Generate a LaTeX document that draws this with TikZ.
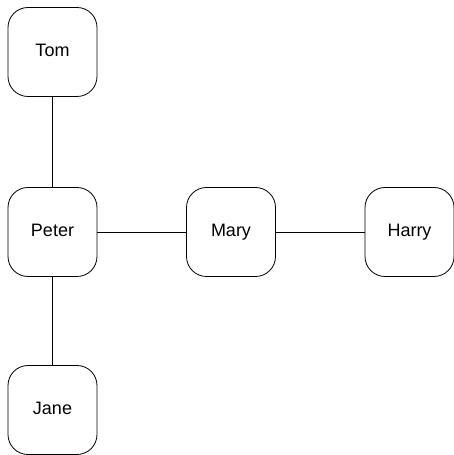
\documentclass[tikz,border=0pt]{standalone}
\usepackage{fontspec}
\setmainfont{Liberation Sans}
\usepackage{tikz}
\usetikzlibrary{positioning}

\begin{document}
\begin{tikzpicture}[
  x=1pt, y=1pt,
  person/.style={draw, rounded corners=20pt, minimum width=89pt, minimum height=89pt, inner sep=0pt, text height=1.2em, text depth=0.2em, line width=0.8pt, font=\fontsize{18}{21}\selectfont},
  link/.style={draw, line width=0.8pt}
]
  \useasboundingbox (0,0) rectangle (453,455);
  \node[person] (tom)   at (52.5, 403) {Tom};
  \node[person] (peter) at (52.5, 223) {Peter};
  \node[person] (mary)  at (231, 223) {Mary};
  \node[person] (harry) at (409.5, 223) {Harry};
  \node[person] (jane)  at (52.5, 45) {Jane};

  \draw[link] (tom) -- (peter);
  \draw[link] (peter) -- (mary);
  \draw[link] (mary) -- (harry);
  \draw[link] (peter) -- (jane);
\end{tikzpicture}
\end{document}
